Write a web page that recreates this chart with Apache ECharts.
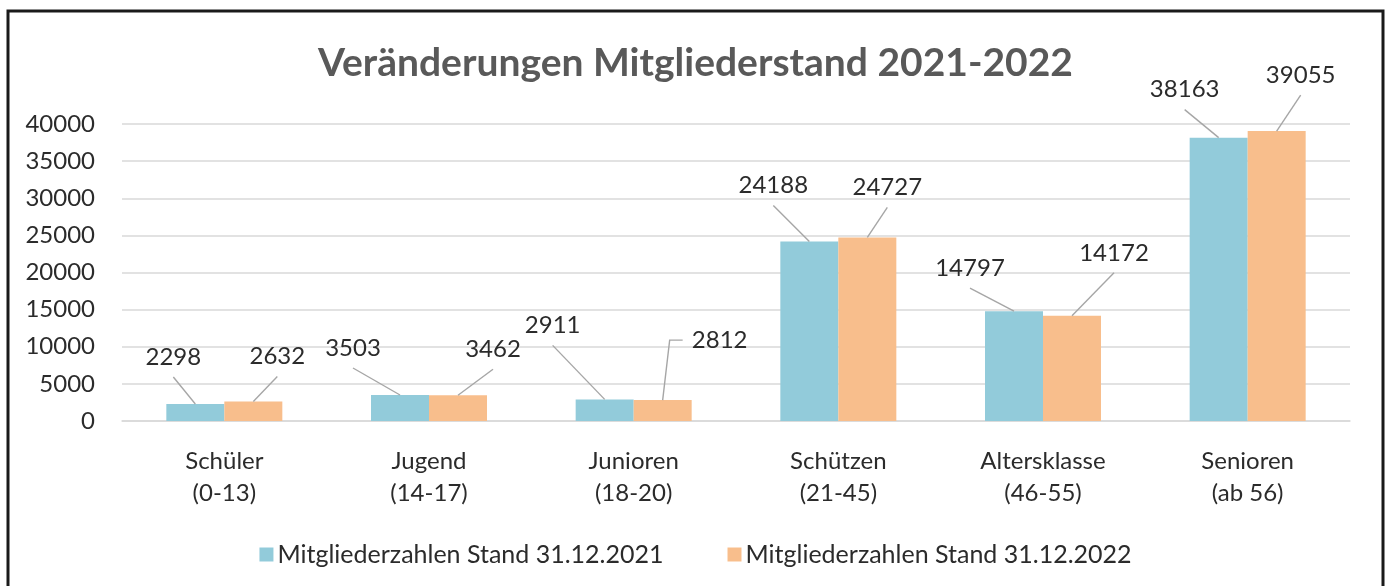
<!DOCTYPE html>
<html>
<head>
<meta charset="utf-8">
<script src="https://cdn.jsdelivr.net/npm/echarts@6/dist/echarts.min.js"></script>
<style>
  html, body { margin: 0; padding: 0; background: #ffffff; }
  #chart { width: 1391px; height: 586px; }
</style>
</head>
<body>
<div id="chart"></div>
<script>
// ---- Data ----
const categories = ['Schüler\n(0-13)', 'Jugend\n(14-17)', 'Junioren\n(18-20)', 'Schützen\n(21-45)', 'Altersklasse\n(46-55)', 'Senioren\n(ab 56)'];
const seriesNames = ['Mitgliederzahlen Stand 31.12.2021', 'Mitgliederzahlen Stand 31.12.2022'];
const values2021 = [2298, 3503, 2911, 24188, 14797, 38163];
const values2022 = [2632, 3462, 2812, 24727, 14172, 39055];
const yTicks = { min: 0, max: 40000, interval: 5000 };

// ---- Layout of data-label callouts (pixel offsets from the top centre of each bar) ----
const labelOffsets2021 = [[-22, -47], [-47, -47], [-52, -74], [-36, -56], [-44, -43], [-34, -48]];
const labelOffsets2022 = [[24, -45], [35, -46], [57, -60], [20, -50], [42, -63], [24, -56]];
// leader line end points relative to the label centre (default: just below the label)
const leaderEnds2022 = { 2: [[-50, 0], [-37, 0]] };
const leaderEnds2021 = {};

const BAR_W = 58;
const TEAL = '#92CBDA';
const PEACH = '#F8BE8C';
const TEXT = '#2b2b2b';
const FONT = 'Lato, "Open Sans", sans-serif';

function labelRenderer(offsets, ends, side) {
  return function (params, api) {
    const cat = api.value(0);
    const val = api.value(1);
    const top = api.coord([cat, val]);
    const ax = top[0] + side * BAR_W / 2;
    const ay = top[1];
    const off = offsets[params.dataIndex];
    const lx = ax + off[0];
    const ly = ay + off[1];
    const pts = [[ax, ay]];
    const e = ends[params.dataIndex];
    if (e) {
      e.forEach(p => pts.push([lx + p[0], ly + p[1]]));
    } else {
      pts.push([lx, ly + 20]);
    }
    return {
      type: 'group',
      children: [
        { type: 'polyline', shape: { points: pts }, style: { stroke: '#a6a6a6', lineWidth: 1.4, fill: null } },
        { type: 'text', x: lx, y: ly, style: { text: String(val), font: '24px ' + FONT, fill: TEXT, align: 'center', verticalAlign: 'middle' } }
      ]
    };
  };
}

const chart = echarts.init(document.getElementById('chart'), null, { renderer: 'canvas' });
chart.setOption({
  backgroundColor: '#ffffff',
  animation: false,
  title: {
    text: 'Veränderungen Mitgliederstand 2021-2022',
    left: 'center',
    top: 39,
    textStyle: { fontFamily: FONT, fontSize: 39, fontWeight: 'bold', color: '#595959' }
  },
  legend: {
    data: seriesNames,
    left: 'center',
    top: 537,
    itemWidth: 14,
    itemHeight: 14,
    itemGap: 64,
    icon: 'rect',
    textStyle: { fontFamily: FONT, fontSize: 25, color: TEXT, padding: [0, 0, 0, -1] }
  },
  grid: { left: 122, right: 41, top: 124, bottom: 165, containLabel: false },
  xAxis: {
    type: 'category',
    data: categories,
    axisLine: { lineStyle: { color: '#d9d9d9', width: 1.5 } },
    axisTick: { show: false },
    axisLabel: { fontFamily: FONT, fontSize: 24, color: TEXT, lineHeight: 32, margin: 24, interval: 0 }
  },
  yAxis: {
    type: 'value',
    min: yTicks.min,
    max: yTicks.max,
    interval: yTicks.interval,
    axisLine: { show: false },
    axisTick: { show: false },
    splitLine: { lineStyle: { color: '#d9d9d9', width: 1.5 } },
    axisLabel: { fontFamily: FONT, fontSize: 24, color: TEXT, margin: 27, formatter: v => String(v) }
  },
  graphic: [{
    type: 'rect',
    shape: { x: 8, y: 11, width: 1375, height: 600 },
    style: { fill: null, stroke: '#1a1a1a', lineWidth: 3 },
    silent: true,
    z: 100
  }],
  series: [
    { name: seriesNames[0], type: 'bar', data: values2021, barWidth: BAR_W, barGap: '0%', itemStyle: { color: TEAL } },
    { name: seriesNames[1], type: 'bar', data: values2022, barWidth: BAR_W, barGap: '0%', itemStyle: { color: PEACH } },
    { type: 'custom', data: values2021.map((v, i) => [i, v]), renderItem: labelRenderer(labelOffsets2021, leaderEnds2021, -1), z: 5, silent: true },
    { type: 'custom', data: values2022.map((v, i) => [i, v]), renderItem: labelRenderer(labelOffsets2022, leaderEnds2022, 1), z: 5, silent: true }
  ]
});
</script>
</body>
</html>
